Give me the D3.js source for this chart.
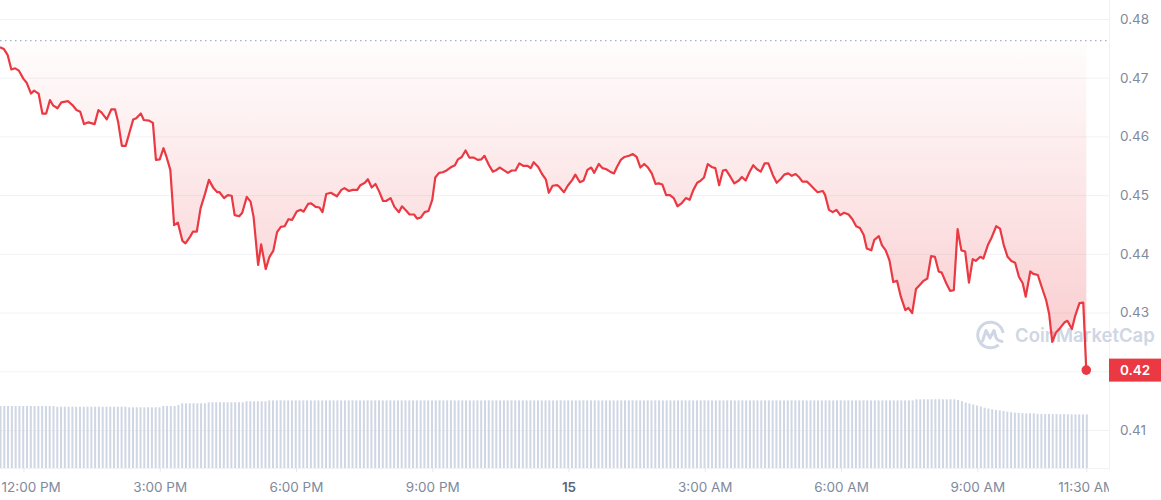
<!DOCTYPE html>
<html>
<head>
<meta charset="utf-8">
<script src="https://cdn.jsdelivr.net/npm/d3@7"></script>
<style>
  body { margin: 0; background: #fff; }
  svg { display: block; font-family: Inter, "Noto Sans", sans-serif; }
</style>
</head>
<body>
<svg id="chart"></svg>
<script>
// ---- data ----
const startTime = '2024-06-14 11:29';
const endTime = '2024-06-15 11:54';
// minutes after startTime for each price sample
const priceMinutes = [0,5,10,15,20,25,31,35,41,45,51,56,61,66,70,76,81,90,96,101,106,111,117,125,130,134,141,147,152,156,161,166,172,176,180,186,190,197,202,206,211,216,220,225,230,235,241,245,251,255,260,265,271,276,282,287,290,296,301,306,310,316,320,326,331,335,341,345,351,356,361,366,371,376,
  381,386,392,397,401,407,411,417,422,426,431,437,445,451,455,461,466,472,476,482,486,491,496,501,506,510,516,521,527,531,537,541,547,551,556,561,566,571,575,580,585,590,595,601,605,610,615,620,626,631,636,640,646,651,656,660,665,671,676,681,686,691,697,701,705,711,716,721,725,730,736,
  739,745,750,756,760,766,771,776,781,785,791,796,801,806,811,815,820,825,831,836,841,846,851,856,861,866,870,875,880,885,890,895,901,906,911,916,921,925,930,935,940,945,950,955,959,965,970,976,980,985,990,995,1000,1005,1010,1015,1021,1026,1031,1036,1041,1046,1051,1056,1060,1066,1070,1076,1080,
  1087,1090,1095,1100,1105,1110,1115,1121,1126,1131,1136,1141,1145,1151,1155,1161,1165,1170,1175,1180,1185,1190,1196,1200,1205,1210,1215,1220,1225,1230,1235,1240,1244,1250,1255,1260,1265,1270,1275,1280,1285,1289,1295,1299,1305,1310,1316,1321,1326,1331,1336,1341,1346,1351,1355,1361,1365,1371,1376,1382,1386,1390,1395,1400,1406,1410,1416,1420,1426,1431,1435];
const priceValues = [0.4752,0.4749,0.4739,0.4714,0.4716,0.4712,0.4698,0.4692,0.4673,0.4678,0.4673,0.4639,0.4639,0.4662,0.4653,0.4648,0.4658,0.4660,0.4653,0.4645,0.4642,0.4621,0.4624,0.4621,0.4645,0.4641,0.4629,0.4646,0.4646,0.4625,0.4584,0.4584,0.4611,0.4629,0.4631,0.4639,0.4628,0.4627,0.4623,0.4560,0.4561,0.4580,0.4565,0.4543,0.4449,0.4453,0.4422,0.4418,0.4429,0.4438,0.4438,0.4478,0.4503,0.4526,0.4512,0.4505,0.4505,0.4495,0.4500,0.4499,0.4466,0.4464,0.4470,0.4497,0.4489,0.4463,0.4381,0.4416,0.4374,0.4395,0.4405,0.4437,0.4446,0.4447,
  0.4459,0.4458,0.4472,0.4475,0.4472,0.4485,0.4486,0.4480,0.4479,0.4471,0.4502,0.4504,0.4498,0.4509,0.4512,0.4507,0.4509,0.4509,0.4517,0.4521,0.4527,0.4513,0.4519,0.4506,0.4490,0.4490,0.4495,0.4480,0.4471,0.4481,0.4473,0.4467,0.4467,0.4460,0.4462,0.4471,0.4473,0.4492,0.4530,0.4538,0.4539,0.4542,0.4547,0.4551,0.4561,0.4565,0.4576,0.4564,0.4564,0.4560,0.4561,0.4567,0.4551,0.4540,0.4543,0.4547,0.4543,0.4538,0.4542,0.4542,0.4554,0.4550,0.4550,0.4546,0.4556,0.4548,0.4536,0.4527,0.4504,0.4516,0.4517,
  0.4514,0.4505,0.4516,0.4526,0.4535,0.4522,0.4525,0.4543,0.4547,0.4538,0.4553,0.4546,0.4544,0.4540,0.4537,0.4548,0.4560,0.4565,0.4567,0.4570,0.4565,0.4547,0.4553,0.4547,0.4537,0.4519,0.4520,0.4518,0.4500,0.4500,0.4495,0.4481,0.4487,0.4495,0.4492,0.4509,0.4521,0.4524,0.4530,0.4553,0.4548,0.4546,0.4517,0.4542,0.4543,0.4531,0.4520,0.4525,0.4531,0.4525,0.4539,0.4551,0.4544,0.4540,0.4554,0.4554,0.4534,0.4521,0.4527,0.4535,0.4537,0.4533,0.4536,0.4530,0.4523,0.4523,0.4518,0.4510,0.4505,
  0.4507,0.4500,0.4475,0.4471,0.4475,0.4466,0.4470,0.4467,0.4459,0.4447,0.4444,0.4432,0.4409,0.4406,0.4424,0.4430,0.4415,0.4406,0.4389,0.4352,0.4354,0.4327,0.4304,0.4308,0.4299,0.4340,0.4347,0.4354,0.4358,0.4396,0.4395,0.4370,0.4368,0.4350,0.4337,0.4338,0.4442,0.4406,0.4404,0.4351,0.4391,0.4388,0.4395,0.4392,0.4415,0.4428,0.4447,0.4443,0.4415,0.4395,0.4388,0.4385,0.4361,0.4350,0.4327,0.4370,0.4366,0.4364,0.4344,0.4321,0.4297,0.4250,0.4266,0.4273,0.4283,0.4286,0.4272,0.4293,0.4316,0.4317,0.4202];
// one bar every 5 minutes from startTime
const volumeStep = 5;
const volumeValues = [
  620,620,620,620,620,620,620,620,620,620,620,620,620,620,620,
  613,613,613,613,613,613,613,613,613,613,613,613,613,613,613,613,613,613,613,
  607,607,607,607,607,607,607,607,607,
  620,620,620,620,630,
  647,647,647,647,647,647,647,
  657,657,657,657,657,657,657,657,657,657,
  667,667,667,667,667,667,
  676,676,676,676,676,676,676,676,676,676,676,676,676,676,676,676,676,676,676,
  676,676,676,676,676,676,676,676,676,676,676,676,676,676,676,676,676,676,676,
  676,676,676,676,676,676,676,676,676,676,676,676,676,676,676,676,676,676,676,
  676,676,676,676,676,676,676,676,676,676,676,676,676,676,676,676,676,676,676,
  676,676,676,676,676,676,676,676,676,676,676,676,676,676,676,676,676,676,676,
  676,676,676,676,676,676,676,676,676,676,676,676,676,676,676,676,676,676,676,
  676,676,676,676,676,676,676,676,676,676,676,676,676,676,676,676,676,676,676,
  676,676,676,676,676,676,676,676,676,676,676,676,676,676,676,676,676,676,676,
  676,676,676,676,676,676,676,676,676,676,676,676,676,676,676,676,676,676,676,
  687,687,687,687,687,687,687,687,687,687,687,
  680,668,655,645,635,625,615,603,595,587,580,575,570,563,558,553,550,548,547,546,
  546,542,541,540,540,539,539,538,538,537,537,537,536,536,536];
const openPrice = 0.4763;
const yTicks = [0.41, 0.42, 0.43, 0.44, 0.45, 0.46, 0.47, 0.48];
const xTickTimes = ['2024-06-14 12:00','2024-06-14 15:00','2024-06-14 18:00','2024-06-14 21:00','2024-06-15 00:00',
  '2024-06-15 03:00','2024-06-15 06:00','2024-06-15 09:00','2024-06-15 11:24'];
const xTickLabels = ['12:00 PM','3:00 PM','6:00 PM','9:00 PM','15','3:00 AM','6:00 AM','9:00 AM','11:30 AM'];

// ---- layout ----
const W = 1161, H = 500, plotR = 1109, plotB = 468;
const red = '#ea3943';
const parse = d3.timeParse('%Y-%m-%d %H:%M');
const t0 = parse(startTime);

const prices = d3.zip(priceMinutes, priceValues).map(([m, v]) => ({ t: d3.timeMinute.offset(t0, m), v }));
const vols = volumeValues.map((v, i) => ({ t: d3.timeMinute.offset(t0, i * volumeStep), v }));
const lastPrice = prices[prices.length - 1];

const x = d3.scaleTime().domain([t0, parse(endTime)]).range([0, plotR]);
const y = d3.scaleLinear().domain([0.41, 0.48]).range([430, 19]);
const yVol = d3.scaleLinear().domain([0, 700]).range([plotB, plotB - 70]);

const svg = d3.select('#chart').attr('width', W).attr('height', H);

const defs = svg.append('defs');
const grad = defs.append('linearGradient').attr('id', 'fillGrad')
  .attr('gradientUnits', 'userSpaceOnUse')
  .attr('x1', 0).attr('x2', 0).attr('y1', y(openPrice)).attr('y2', y(0.42));
grad.append('stop').attr('offset', 0).attr('stop-color', red).attr('stop-opacity', 0.01);
grad.append('stop').attr('offset', 1).attr('stop-color', red).attr('stop-opacity', 0.27);
defs.append('clipPath').attr('id', 'plotClip').append('rect')
  .attr('x', 0).attr('y', 0).attr('width', plotR).attr('height', H);

// grid
svg.append('g')
  .attr('transform', `translate(${plotR},0)`)
  .call(d3.axisLeft(y).tickValues(yTicks).tickSize(plotR).tickFormat(''))
  .call(g => g.select('.domain').remove())
  .call(g => g.selectAll('line').attr('stroke', '#f1f2f4'));
svg.append('line').attr('x1', plotR + 0.5).attr('x2', plotR + 0.5).attr('y1', 0).attr('y2', plotB + 2)
  .attr('stroke', '#f1f2f4');
svg.append('line').attr('x1', 0).attr('x2', plotR).attr('y1', plotB + 0.5).attr('y2', plotB + 0.5)
  .attr('stroke', '#f1f2f4');

// volume bars
svg.append('g').selectAll('rect')
  .data(vols)
  .enter()
  .append('rect')
  .attr('x', d => x(d.t) - 0.5)
  .attr('width', 2)
  .attr('y', d => yVol(d.v))
  .attr('height', d => plotB - yVol(d.v))
  .attr('fill', '#cfd6e4');

// watermark
const wm = svg.append('g').attr('fill', 'none').attr('stroke', '#cfd6e4');
wm.append('path')
  .attr('transform', 'translate(990.5,335)')
  .attr('d', d3.arc()({ innerRadius: 11.3, outerRadius: 14.3, startAngle: 0.78 * Math.PI, endAngle: 2.45 * Math.PI }))
  .attr('fill', '#cfd6e4').attr('stroke', 'none');
wm.append('path')
  .attr('transform', 'translate(990.5,335)')
  .attr('d', 'M-8,6 L-4.5,-4.5 L-0.5,3 L3.5,-4.5 L5.5,2.5 Q7,6 11.5,6.5')
  .attr('stroke-width', 3).attr('stroke-linejoin', 'round').attr('stroke-linecap', 'round');
svg.append('text')
  .attr('x', 1015).attr('y', 341.5)
  .attr('font-size', 18.5).attr('font-weight', 600)
  .attr('fill', '#cfd6e4')
  .text('CoinMarketCap');

// area + line
const plot = svg.append('g').attr('clip-path', 'url(#plotClip)');
plot.append('path')
  .datum(prices)
  .attr('d', d3.area().x(d => x(d.t)).y0(y(openPrice)).y1(d => y(d.v)))
  .attr('fill', 'url(#fillGrad)');
plot.append('line')
  .attr('x1', 0).attr('x2', plotR - 2)
  .attr('y1', y(openPrice)).attr('y2', y(openPrice))
  .attr('stroke', '#a6b0c3').attr('stroke-width', 1.2)
  .attr('stroke-dasharray', '1.5 3.5');
plot.append('path')
  .datum(prices)
  .attr('d', d3.line().x(d => x(d.t)).y(d => y(d.v)))
  .attr('fill', 'none')
  .attr('stroke', red)
  .attr('stroke-width', 2.2)
  .attr('stroke-linejoin', 'round');
svg.append('circle')
  .attr('cx', x(lastPrice.t)).attr('cy', y(lastPrice.v)).attr('r', 4.8)
  .attr('fill', red);

// y axis labels
svg.append('g')
  .attr('transform', `translate(${plotR},0)`)
  .call(d3.axisRight(y).tickValues(yTicks).tickFormat(d3.format('.2f')).tickSize(0).tickPadding(11))
  .call(g => g.select('.domain').remove())
  .call(g => g.selectAll('text').attr('font-size', 13.5).attr('fill', '#808a9d').attr('font-family', 'Inter, sans-serif'));

// current price tag
const tagY = y(lastPrice.v);
svg.append('rect')
  .attr('x', plotR).attr('y', tagY - 11.5).attr('width', W - plotR).attr('height', 23)
  .attr('fill', red);
svg.append('text')
  .attr('x', 1120).attr('y', tagY).attr('dy', '0.35em')
  .attr('font-size', 13.5).attr('font-weight', 600).attr('fill', '#fff')
  .text(d3.format('.2f')(lastPrice.v));

// x axis (clip rect is in the axis group's own coordinates)
defs.append('clipPath').attr('id', 'axisClip').append('rect')
  .attr('x', 0).attr('y', -2).attr('width', plotR).attr('height', H - plotB + 2);
const xAxis = svg.append('g')
  .attr('transform', `translate(0,${plotB})`)
  .attr('clip-path', 'url(#axisClip)')
  .call(d3.axisBottom(x).tickValues(xTickTimes.map(parse)).tickFormat((d, i) => xTickLabels[i]).tickSize(4).tickPadding(10))
  .call(g => g.select('.domain').remove())
  .call(g => g.selectAll('line').attr('stroke', '#e6e9ee'));
xAxis.selectAll('text')
  .attr('font-size', 13.5)
  .attr('font-family', 'Inter, sans-serif')
  .attr('fill', (d, i) => xTickLabels[i] === '15' ? '#58667e' : '#808a9d')
  .attr('font-weight', (d, i) => xTickLabels[i] === '15' ? 600 : 400)
  .each(function (d) {
    const w = this.getBBox().width;
    const cx = x(d);
    if (cx - w / 2 < 1) d3.select(this).attr('x', 1 - cx + w / 2);
  });
</script>
</body>
</html>
